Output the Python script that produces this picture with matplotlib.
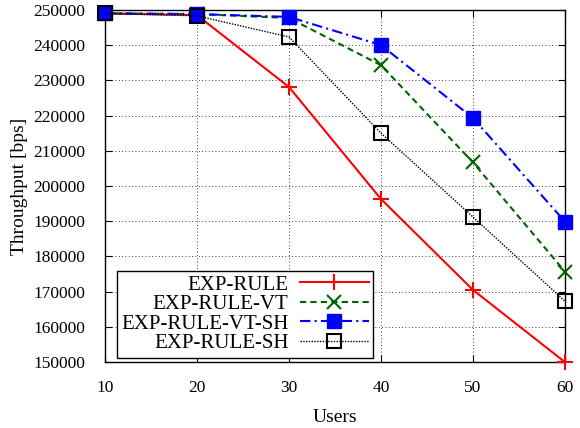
import matplotlib
matplotlib.use("Agg")
import matplotlib.pyplot as plt

users = [10, 20, 30, 40, 50, 60]
exp_rule = [249000, 248500, 228100, 196300, 170500, 150000]
exp_rule_vt = [249000, 248800, 247700, 234300, 206700, 175700]
exp_rule_vt_sh = [249000, 248800, 248000, 240000, 219300, 189900]
exp_rule_sh = [249000, 248300, 242300, 215000, 191200, 167300]

plt.rcParams['font.family'] = ['Liberation Serif', 'DejaVu Serif']
plt.rcParams['font.size'] = 12

fig = plt.figure(figsize=(5.8, 4.28), dpi=100)
ax = fig.add_axes([0.181, 0.154, 0.793, 0.823])

ax.plot(users, exp_rule, color='#ff0000', lw=1.5, marker='+', ms=12, mew=1.5, label='EXP-RULE', clip_on=False, zorder=5)
ax.plot(users, exp_rule_vt, color='#006400', lw=1.5, ls=(0, (3, 2)), marker='x', ms=10, mew=1.5, label='EXP-RULE-VT', clip_on=False, zorder=5)
ax.plot(users, exp_rule_vt_sh, color='#0000ff', lw=1.5, ls=(0, (5, 2, 1, 2)), marker='s', ms=9.5, label='EXP-RULE-VT-SH', clip_on=False, zorder=5)
ax.plot(users, exp_rule_sh, color='black', lw=1.0, ls=(0, (1, 1)), marker='s', ms=9.5, mfc='none', mew=1.5, label='EXP-RULE-SH', clip_on=False, zorder=5)

ax.set_xlim(10, 60)
ax.set_ylim(150000, 250000)
ax.set_xticks(users)
ax.set_yticks(range(150000, 250001, 10000))
ax.grid(True, color='black', ls=(0, (1, 3)), lw=0.6)
ax.tick_params(axis='both', direction='in', top=True, right=True, length=5, labelsize=12.5)
ax.tick_params(axis='x', pad=13)
ax.tick_params(axis='y', pad=14)
ax.set_xlabel('Users', fontsize=14, labelpad=9)
ax.set_ylabel('Throughput [bps]', fontsize=14, labelpad=4)
for s in ax.spines.values():
    s.set_linewidth(1.0)

leg = ax.legend(loc='lower left', bbox_to_anchor=(0.026, 0.013), markerfirst=False, fontsize=15,
                fancybox=False, framealpha=1, edgecolor='black', handlelength=3.3,
                borderpad=0.2, labelspacing=0.0, handletextpad=0.55, borderaxespad=0)
leg.get_frame().set_linewidth(1.0)
for t in leg.get_texts():
    t.set_ha('right')
leg._legend_box.align = 'right'

fig.savefig('out.png', dpi=100)
